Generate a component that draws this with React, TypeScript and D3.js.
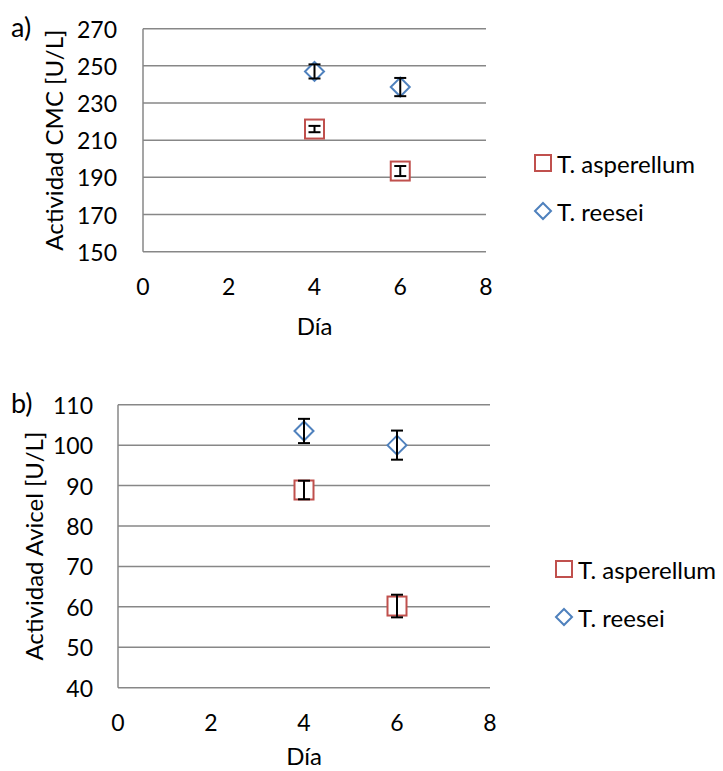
import React from "react";
import * as d3 from "d3";

// Day of measurement
const days = [4, 6];

// Panel a) — CMC activity [U/L]
const cmcAsperellum = [216, 193.4];
const cmcAsperellumErr = [1.7, 2.7];
const cmcReesei = [247, 238.6];
const cmcReeseiErr = [3.8, 4.9];

// Panel b) — Avicel activity [U/L]
const avicelAsperellum = [88.9, 60.2];
const avicelAsperellumErr = [2.3, 2.8];
const avicelReesei = [103.5, 100];
const avicelReeseiErr = [3.0, 3.6];

const xTicks = [0, 2, 4, 6, 8];
const cmcTicks = [150, 170, 190, 210, 230, 250, 270];
const avicelTicks = [40, 50, 60, 70, 80, 90, 100, 110];

const seriesNames = ["T. asperellum", "T. reesei"];

const RED = "#C0504D";
const BLUE = "#4F81BD";
const GRID = "#878787";
const FONT = "Lato, 'Open Sans', sans-serif";

type PanelProps = {
  tag: string;
  yTitle: string;
  yTicks: number[];
  asper: number[];
  asperErr: number[];
  reesei: number[];
  reeseiErr: number[];
  left: number;
  right: number;
  top: number;
  bottom: number;
  yLabelRight: number;
  yTitleX: number;
  xLabelY: number;
  xTitleY: number;
  legendX: number;
  legendY: number;
  legendGap: number;
};

const Square = ({ cx, cy, s }: { cx: number; cy: number; s: number }) => (
  <rect x={cx - s / 2} y={cy - s / 2} width={s} height={s} fill="white" stroke={RED} strokeWidth={2} />
);

const Diamond = ({ cx, cy, s }: { cx: number; cy: number; s: number }) => {
  const h = s / 2;
  return (
    <path
      d={`M${cx},${cy - h}L${cx + h},${cy}L${cx},${cy + h}L${cx - h},${cy}Z`}
      fill="white"
      stroke={BLUE}
      strokeWidth={2}
    />
  );
};

const ErrorBar = ({ x, y0, y1 }: { x: number; y0: number; y1: number }) => (
  <g stroke="#000" strokeWidth={2}>
    <line x1={x} x2={x} y1={y0} y2={y1} />
    <line x1={x - 6} x2={x + 6} y1={y0} y2={y0} />
    <line x1={x - 6} x2={x + 6} y1={y1} y2={y1} />
  </g>
);

function Panel(p: PanelProps) {
  const x = d3.scaleLinear().domain([0, 8]).range([p.left, p.right]);
  const y = d3
    .scaleLinear()
    .domain([p.yTicks[0], p.yTicks[p.yTicks.length - 1]])
    .range([p.bottom, p.top]);
  const yMid = (p.top + p.bottom) / 2;
  const fsTick = 23;
  const fs = 24;
  return (
    <g fontFamily={FONT} fill="#000">
      <text x={11} y={p.top - 2} fontSize={27} dominantBaseline="central">
        {p.tag}
      </text>
      {p.yTicks.map((t) => (
        <g key={t}>
          <line x1={p.left} x2={p.right} y1={y(t)} y2={y(t)} stroke={GRID} strokeWidth={1.5} />
          <text x={p.yLabelRight} y={y(t)} fontSize={fsTick} textAnchor="end" dominantBaseline="central">
            {t}
          </text>
        </g>
      ))}
      <line x1={p.left} x2={p.left} y1={p.top} y2={p.bottom} stroke={GRID} strokeWidth={1.5} />
      {xTicks.map((t) => (
        <text key={t} x={x(t)} y={p.xLabelY} fontSize={fsTick} textAnchor="middle" dominantBaseline="central">
          {t}
        </text>
      ))}
      <text x={x(4)} y={p.xTitleY} fontSize={fs} textAnchor="middle" dominantBaseline="central">
        Día
      </text>
      <text
        transform={`translate(${p.yTitleX},${yMid}) rotate(-90)`}
        fontSize={fs}
        textAnchor="middle"
        dominantBaseline="central"
      >
        {p.yTitle}
      </text>

      {days.map((d, i) => (
        <g key={"a" + d}>
          <Square cx={x(d)} cy={y(p.asper[i])} s={19} />
          <ErrorBar x={x(d)} y0={y(p.asper[i] - p.asperErr[i])} y1={y(p.asper[i] + p.asperErr[i])} />
        </g>
      ))}
      {days.map((d, i) => (
        <g key={"r" + d}>
          <Diamond cx={x(d)} cy={y(p.reesei[i])} s={19} />
          <ErrorBar x={x(d)} y0={y(p.reesei[i] - p.reeseiErr[i])} y1={y(p.reesei[i] + p.reeseiErr[i])} />
        </g>
      ))}

      <Square cx={p.legendX} cy={p.legendY} s={16} />
      <text x={p.legendX + 14} y={p.legendY} fontSize={fs} dominantBaseline="central">
        {seriesNames[0]}
      </text>
      <Diamond cx={p.legendX} cy={p.legendY + p.legendGap} s={16} />
      <text x={p.legendX + 14} y={p.legendY + p.legendGap} fontSize={fs} dominantBaseline="central">
        {seriesNames[1]}
      </text>
    </g>
  );
}

export default function App() {
  return (
    <svg width={723} height={771} style={{ position: "absolute", left: 0, top: 0, background: "white" }}>
      <rect width={723} height={771} fill="white" />
      <Panel
        tag="a)"
        yTitle="Actividad CMC [U/L]"
        yTicks={cmcTicks}
        asper={cmcAsperellum}
        asperErr={cmcAsperellumErr}
        reesei={cmcReesei}
        reeseiErr={cmcReeseiErr}
        left={143}
        right={486}
        top={28.7}
        bottom={251.7}
        yLabelRight={117}
        yTitleX={53}
        xLabelY={286}
        xTitleY={325}
        legendX={543}
        legendY={163}
        legendGap={48}
      />
      <Panel
        tag="b)"
        yTitle="Actividad Avicel [U/L]"
        yTicks={avicelTicks}
        asper={avicelAsperellum}
        asperErr={avicelAsperellumErr}
        reesei={avicelReesei}
        reeseiErr={avicelReeseiErr}
        left={118}
        right={490}
        top={404.7}
        bottom={687.7}
        yLabelRight={93}
        yTitleX={33}
        xLabelY={721.7}
        xTitleY={755}
        legendX={564}
        legendY={569}
        legendGap={48}
      />
    </svg>
  );
}
